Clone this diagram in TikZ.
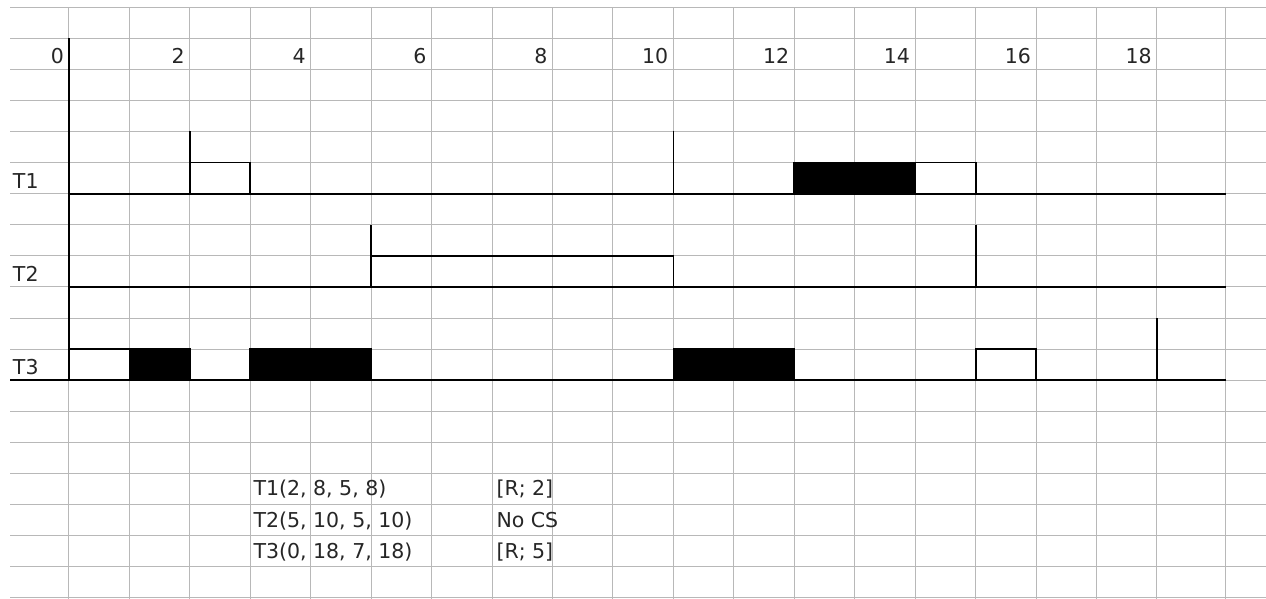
\documentclass[tikz,border=0pt]{standalone}
\usepackage{fontspec}
\setmainfont{DejaVu Sans}

\begin{document}
\begin{tikzpicture}[
        x=60.44pt,
        y=-31.1pt,
        gridline/.style={
            draw=black!28,
            line width=1pt
        },
        bar/.style={
            draw=black,
            line width=1.8pt
        },
        busy/.style={
            bar,
            fill=black
        },
        txt/.style={
            inner sep=0pt,
            font=\fontsize{20.5}{24}\selectfont,
            text=black!85
        }
    ]

        \useasboundingbox (-69pt,7pt) rectangle (1197pt,-591pt);

        % spreadsheet grid
        \foreach \k in {0,...,19}
            \draw[gridline] (-0.976,\k) -- (19.81,\k);
        \foreach \t in {0,...,18}
            \draw[gridline] (\t,0) -- (\t,19.2);
        \draw[gridline] (19.14,0) -- (19.14,19.2);

        % time scale
        \foreach \t in {0,2,...,18}
            \node[txt, anchor=base east] (tick\t) at ([xshift=-5pt]\t,1.83) {\t};

        % task names
        \node[txt, anchor=base west] (T1) at (-0.93,5.82) {T1};
        \node[txt, anchor=base west] (T2) at (-0.93,8.82) {T2};
        \node[txt, anchor=base west] (T3) at (-0.93,11.82) {T3};

        % axis and baselines
        \draw[bar] (0,1) -- (0,12);
        \draw[bar] (0,6) -- (19.14,6);
        \draw[bar] (0,9) -- (19.14,9);
        \draw[bar] (-0.976,12) -- (19.14,12);

        % T1
        \draw[bar] (2,4) -- (2,6);
        \draw[bar] (2,5) -- (3,5) -- (3,6);
        \draw[bar] (10,4) -- (10,6);
        \filldraw[busy] (12,5) rectangle (14,6);
        \draw[bar] (14,5) -- (15,5) -- (15,6);

        % T2
        \draw[bar] (5,7) -- (5,9);
        \draw[bar] (5,8) -- (10,8) -- (10,9);
        \draw[bar] (15,7) -- (15,9);

        % T3
        \draw[bar] (0,11) -- (1,11);
        \filldraw[busy] (1,11) rectangle (2,12);
        \filldraw[busy] (3,11) rectangle (5,12);
        \filldraw[busy] (10,11) rectangle (12,12);
        \draw[bar] (15,12) -- (15,11) -- (16,11) -- (16,12);
        \draw[bar] (18,10) -- (18,12);

        % task parameters
        \node[txt, anchor=base west] (p1) at (3.05,15.72) {T1(2, 8, 5, 8)};
        \node[txt, anchor=base west] (p2) at (3.05,16.72) {T2(5, 10, 5, 10)};
        \node[txt, anchor=base west] (p3) at (3.05,17.72) {T3(0, 18, 7, 18)};
        \node[txt, anchor=base west] (c1) at (7.07,15.72) {[R; 2]};
        \node[txt, anchor=base west] (c2) at (7.07,16.72) {No CS};
        \node[txt, anchor=base west] (c3) at (7.07,17.72) {[R; 5]};

    \end{tikzpicture}
\end{document}
